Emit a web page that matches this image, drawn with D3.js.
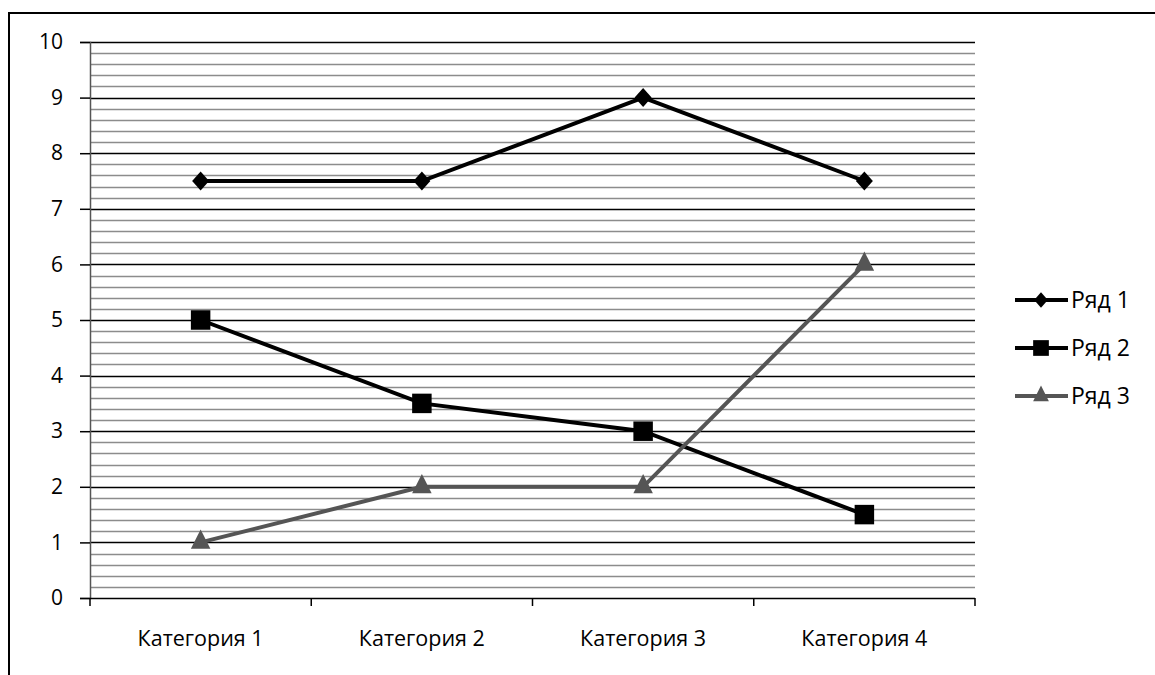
<!DOCTYPE html>
<html>
<head>
<meta charset="utf-8">
<script src="https://cdn.jsdelivr.net/npm/d3@7"></script>
<style>
  body { margin: 0; background: #fff; }
  svg { display: block; font-family: "Open Sans", sans-serif; }
</style>
</head>
<body>
<svg id="chart" width="1155" height="675"></svg>
<script>
// data
var categories = ["Категория 1", "Категория 2", "Категория 3", "Категория 4"];
var seriesNames = ["Ряд 1", "Ряд 2", "Ряд 3"];
var ryad1 = [7.5, 7.5, 9, 7.5];
var ryad2 = [5, 3.5, 3, 1.5];
var ryad3 = [1, 2, 2, 6];
var yTicks = [0, 1, 2, 3, 4, 5, 6, 7, 8, 9, 10];

// marker look per series (shape, area, stretch x/y)
var series = [
  {name: seriesNames[0], values: ryad1, color: "#000", shape: d3.symbolDiamond, size: 104, sx: 1.55, sy: 1},
  {name: seriesNames[1], values: ryad2, color: "#000", shape: d3.symbolSquare, size: 380, sx: 1, sy: 1},
  {name: seriesNames[2], values: ryad3, color: "#555", shape: d3.symbolTriangle, size: 150, sx: 1.05, sy: 1.2}
];

var svg = d3.select("#chart");

// outer frame (only top and left edges are inside the picture)
svg.append("rect")
  .attr("x", 9).attr("y", 13)
  .attr("width", 1200).attr("height", 700)
  .attr("fill", "none").attr("stroke", "#000").attr("stroke-width", 2);

var plotL = 90, plotR = 975, plotT = 42, plotB = 598;

var x = d3.scaleBand().domain(categories).range([plotL, plotR]);
var y = d3.scaleLinear().domain([0, 10]).range([plotB, plotT]);

// minor gridlines every 0.2
var minor = d3.range(0, 50).map(function(i){ return i / 5; }).filter(function(v){ return v % 1 !== 0; });
svg.append("g").selectAll("line").data(minor).enter().append("line")
  .attr("x1", plotL).attr("x2", plotR)
  .attr("y1", function(d){ return Math.round(y(d)) + 0.5; })
  .attr("y2", function(d){ return Math.round(y(d)) + 0.5; })
  .attr("stroke", "#8c8c8c").attr("stroke-width", 1.5);

// major gridlines
svg.append("g").selectAll("line").data(yTicks.slice(1)).enter().append("line")
  .attr("x1", plotL).attr("x2", plotR)
  .attr("y1", function(d){ return Math.round(y(d)) + 0.5; })
  .attr("y2", function(d){ return Math.round(y(d)) + 0.5; })
  .attr("stroke", "#000").attr("stroke-width", 1.5);

// y axis
var yAxis = svg.append("g")
  .attr("transform", "translate(" + plotL + ",0)")
  .call(d3.axisLeft(y).tickValues(yTicks).tickSize(10).tickPadding(17).tickFormat(d3.format("d")));
yAxis.attr("font-size", null).attr("font-family", null);
yAxis.select(".domain").attr("stroke", "#555").attr("stroke-width", 1.5);
yAxis.selectAll(".tick line").attr("stroke", "#000").attr("stroke-width", 1.5);
yAxis.selectAll("text").attr("font-size", 21).attr("fill", "#000");

// x axis
var xAxis = svg.append("g")
  .attr("transform", "translate(0," + plotB + ")")
  .call(d3.axisBottom(x).tickSize(0).tickPadding(33));
xAxis.attr("font-size", null).attr("font-family", null);
xAxis.select(".domain").remove();
xAxis.selectAll("text").attr("font-size", 21.5).attr("fill", "#000");
svg.append("line")
  .attr("x1", plotL).attr("x2", plotR).attr("y1", plotB + 0.5).attr("y2", plotB + 0.5)
  .attr("stroke", "#000").attr("stroke-width", 1.5);
var bounds = categories.map(function(c){ return x(c); }).concat([plotR]);
svg.append("g").selectAll("line").data(bounds).enter().append("line")
  .attr("x1", function(d){ return d; }).attr("x2", function(d){ return d; })
  .attr("y1", plotB).attr("y2", plotB + 8)
  .attr("stroke", "#000").attr("stroke-width", 1.5);

// lines + markers
var cx = function(i){ return x(categories[i]) + x.bandwidth() / 2; };
var line = d3.line()
  .x(function(d, i){ return cx(i); })
  .y(function(d){ return y(d); });

series.forEach(function(s){
  svg.append("path").datum(s.values)
    .attr("d", line).attr("fill", "none")
    .attr("stroke", s.color).attr("stroke-width", 4);
  svg.append("g").selectAll("path").data(s.values).enter().append("path")
    .attr("d", d3.symbol().type(s.shape).size(s.size))
    .attr("transform", function(d, i){
      return "translate(" + cx(i) + "," + y(d) + ") scale(" + s.sx + "," + s.sy + ")";
    })
    .attr("fill", s.color);
});

// legend
var legend = svg.append("g");
series.forEach(function(s, i){
  var ly = 300 + i * 48;
  legend.append("line")
    .attr("x1", 1015).attr("x2", 1068).attr("y1", ly).attr("y2", ly)
    .attr("stroke", s.color).attr("stroke-width", 4);
  legend.append("path")
    .attr("d", d3.symbol().type(s.shape).size(s.size * 0.65))
    .attr("transform", "translate(1041," + ly + ") scale(" + s.sx + "," + s.sy + ")")
    .attr("fill", s.color);
  legend.append("text")
    .attr("x", 1071).attr("y", ly).attr("dy", "0.35em")
    .attr("font-size", 23).attr("fill", "#000")
    .text(s.name);
});
</script>
</body>
</html>
